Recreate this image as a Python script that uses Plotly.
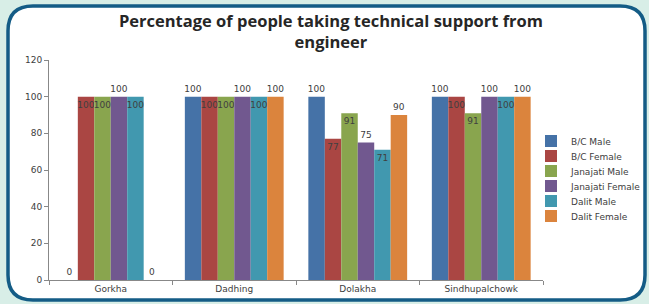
import plotly.graph_objects as go

categories = ["Gorkha", "Dadhing", "Dolakha", "Sindhupalchowk"]
series_names = ["B/C Male", "B/C Female", "Janajati Male", "Janajati Female", "Dalit Male", "Dalit Female"]
bc_male = [0, 100, 100, 100]
bc_female = [100, 100, 77, 100]
janajati_male = [100, 100, 91, 91]
janajati_female = [100, 100, 75, 100]
dalit_male = [100, 100, 71, 100]
dalit_female = [0, 100, 90, 100]
y_ticks = [0, 20, 40, 60, 80, 100, 120]

values = [bc_male, bc_female, janajati_male, janajati_female, dalit_male, dalit_female]
colors = ["#4572A7", "#AA4643", "#89A54E", "#71588F", "#4198AF", "#DB843D"]
inside = [False, True, True, False, True, False]

W, H = 649, 304
ml, mr, mt, mb = 49, 106, 60, 24
pw = W - ml - mr
ph = H - mt - mb


def px2x(px):
    return (px - ml) / pw


def px2y(py):
    return (H - mb - py) / ph


fig = go.Figure()
legend_layouts = {}
for i, (name, vals, col, ins) in enumerate(zip(series_names, values, colors, inside)):
    lname = "legend" if i == 0 else f"legend{i + 1}"
    fig.add_trace(go.Bar(
        x=categories, y=vals, name=name,
        marker=dict(color=col, line=dict(width=0)),
        text=[str(v) for v in vals],
        textposition="inside" if ins else "outside",
        insidetextanchor="end",
        constraintext="none",
        textangle=0,
        textfont=dict(family="DejaVu Sans", size=9, color="#404040"),
        cliponaxis=False,
        legend=lname,
    ))
    legend_layouts[lname] = dict(
        x=px2x(531), xanchor="left", y=px2y(141 + 15 * i), yanchor="middle",
        font=dict(family="DejaVu Sans", size=9, color="#404040"),
        bgcolor="rgba(0,0,0,0)", itemwidth=30,
    )

x0, x1, y0, y1, r = 8, 645, 6, 300, 25
path = (
    f"M {px2x(x0 + r)} {px2y(y0)} "
    f"L {px2x(x1 - r)} {px2y(y0)} "
    f"Q {px2x(x1)} {px2y(y0)} {px2x(x1)} {px2y(y0 + r)} "
    f"L {px2x(x1)} {px2y(y1 - r)} "
    f"Q {px2x(x1)} {px2y(y1)} {px2x(x1 - r)} {px2y(y1)} "
    f"L {px2x(x0 + r)} {px2y(y1)} "
    f"Q {px2x(x0)} {px2y(y1)} {px2x(x0)} {px2y(y1 - r)} "
    f"L {px2x(x0)} {px2y(y0 + r)} "
    f"Q {px2x(x0)} {px2y(y0)} {px2x(x0 + r)} {px2y(y0)} Z"
)

fig.update_layout(
    width=W, height=H,
    margin=dict(l=ml, r=mr, t=mt, b=mb, autoexpand=False),
    paper_bgcolor="#D8EEE7",
    plot_bgcolor="rgba(0,0,0,0)",
    barmode="group", bargap=0.2, bargroupgap=0,
    title=dict(
        text="Percentage of people taking technical support from<br>engineer",
        x=0.51, xanchor="center", y=1 - 27 / H, yanchor="middle", yref="container",
        font=dict(family="Open Sans", size=16.5, color="#262626", weight="bold"),
    ),
    font=dict(family="DejaVu Sans", size=9, color="#404040"),
    shapes=[dict(type="path", path=path, xref="paper", yref="paper",
                 fillcolor="white", line=dict(color="#145C86", width=3.5), layer="below")],
    showlegend=True,
    **legend_layouts,
)
fig.update_yaxes(
    range=[0, 120], tickvals=y_ticks, showgrid=False, zeroline=False,
    showline=True, linecolor="#888888", linewidth=1,
    ticks="outside", ticklen=4, tickcolor="#888888",
    tickfont=dict(family="DejaVu Sans", size=9, color="#404040"),
)
fig.update_xaxes(
    showgrid=False, showline=True, linecolor="#888888", linewidth=1,
    ticks="outside", tickson="boundaries", ticklen=4, tickcolor="#888888",
    tickfont=dict(family="DejaVu Sans", size=9, color="#404040"),
)

fig.write_html("out.html", config={"displayModeBar": False},
               post_script="document.body.style.margin='0px';")
